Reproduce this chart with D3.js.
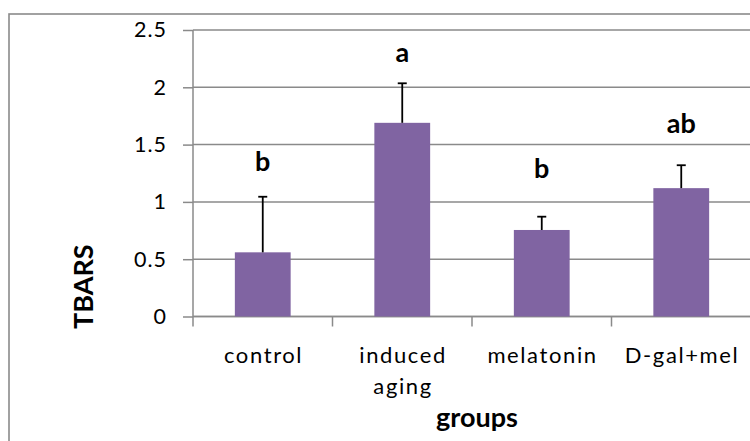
<!DOCTYPE html>
<html>
<head>
<meta charset="utf-8">
<script src="https://cdn.jsdelivr.net/npm/d3@7"></script>
<style>
  body { margin: 0; background: #fff; }
  svg { display: block; }
</style>
</head>
<body>
<svg id="chart" width="750" height="441"></svg>
<script>
// TBARS per group (mean, upper error) with significance letters
const groups = ["control", "induced aging", "melatonin", "D-gal+mel"];
const tbars = [0.56, 1.69, 0.755, 1.12];
const errorUp = [0.485, 0.345, 0.116, 0.20];
const letters = ["b", "a", "b", "ab"];
const letterLevel = [1.27, 2.223, 1.209, 1.60];
const yTicks = [0, 0.5, 1, 1.5, 2, 2.5];

const svg = d3.select("#chart");
const plot = { left: 193, top: 30, right: 751, bottom: 316.5 };
const gridColor = "#8a8a8a";
const barColor = "#8064a2";
const font = "Lato, 'Open Sans', sans-serif";

// chart frame (runs past the right and bottom edges)
svg.append("rect")
  .attr("x", 9).attr("y", 14)
  .attr("width", 800).attr("height", 500)
  .attr("fill", "none")
  .attr("stroke", gridColor)
  .attr("stroke-width", 1.6);

const y = d3.scaleLinear().domain([0, 2.5]).range([plot.bottom, plot.top]);
const x = d3.scaleBand().domain(groups)
  .range([plot.left, plot.right])
  .paddingInner(0.6).paddingOuter(0.3);
const step = x.step();

// horizontal gridlines
svg.append("g")
  .selectAll("line")
  .data(yTicks)
  .join("line")
  .attr("x1", plot.left).attr("x2", plot.right)
  .attr("y1", d => y(d)).attr("y2", d => y(d))
  .attr("stroke", gridColor)
  .attr("stroke-width", 1.5);

// y axis
const yAxis = svg.append("g")
  .attr("transform", `translate(${plot.left},0)`)
  .call(d3.axisLeft(y).tickValues(yTicks).tickSize(10).tickPadding(17)
    .tickFormat(d3.format("")));
yAxis.select(".domain")
  .attr("d", `M0,${plot.top}V${plot.bottom + 10}`)
  .attr("stroke", gridColor).attr("stroke-width", 1.5);
yAxis.selectAll(".tick line").attr("stroke", gridColor).attr("stroke-width", 1.5);
yAxis.selectAll(".tick text")
  .attr("fill", "#000")
  .attr("dx", "1px")
  .style("font-family", font)
  .style("font-size", "21.5px")
  .style("letter-spacing", "1px");

// x axis line with ticks between categories
const xAxis = svg.append("g");
xAxis.append("line")
  .attr("x1", plot.left).attr("x2", plot.right)
  .attr("y1", plot.bottom).attr("y2", plot.bottom)
  .attr("stroke", gridColor).attr("stroke-width", 1.5);
xAxis.selectAll("line.sep")
  .data(d3.range(1, groups.length + 1))
  .join("line")
  .attr("class", "sep")
  .attr("x1", i => plot.left + i * step).attr("x2", i => plot.left + i * step)
  .attr("y1", plot.bottom).attr("y2", plot.bottom + 10)
  .attr("stroke", gridColor).attr("stroke-width", 1.5);

// category labels, wrapped at spaces
const catLabels = xAxis.selectAll("text.cat")
  .data(groups)
  .join("text")
  .attr("class", "cat")
  .attr("y", 363)
  .attr("text-anchor", "middle")
  .attr("fill", "#000")
  .style("font-family", font)
  .style("font-size", "22px")
  .style("letter-spacing", "1.6px");
catLabels.each(function (d) {
  const t = d3.select(this);
  const cx = x(d) + x.bandwidth() / 2 + 0.8;
  d.split(" ").forEach((w, i) => {
    t.append("tspan").attr("x", cx).attr("dy", i === 0 ? 0 : 31).text(w);
  });
});

// bars
const data = groups.map((g, i) => ({ g, v: tbars[i], e: errorUp[i], l: letters[i], ll: letterLevel[i] }));
svg.append("g")
  .selectAll("rect")
  .data(data)
  .join("rect")
  .attr("x", d => x(d.g))
  .attr("y", d => y(d.v))
  .attr("width", x.bandwidth())
  .attr("height", d => y(0) - y(d.v))
  .attr("fill", barColor);

// upper error bars
const err = svg.append("g").attr("stroke", "#000").attr("stroke-width", 1.8);
err.selectAll("line.stem")
  .data(data)
  .join("line")
  .attr("class", "stem")
  .attr("x1", d => x(d.g) + x.bandwidth() / 2)
  .attr("x2", d => x(d.g) + x.bandwidth() / 2)
  .attr("y1", d => y(d.v))
  .attr("y2", d => y(d.v + d.e));
err.selectAll("line.cap")
  .data(data)
  .join("line")
  .attr("class", "cap")
  .attr("x1", d => x(d.g) + x.bandwidth() / 2 - 4.5)
  .attr("x2", d => x(d.g) + x.bandwidth() / 2 + 4.5)
  .attr("y1", d => y(d.v + d.e))
  .attr("y2", d => y(d.v + d.e));

// significance letters
svg.append("g")
  .selectAll("text")
  .data(data)
  .join("text")
  .attr("x", d => x(d.g) + x.bandwidth() / 2)
  .attr("y", d => y(d.ll))
  .attr("text-anchor", "middle")
  .attr("fill", "#000")
  .style("font-family", font)
  .style("font-weight", "bold")
  .style("font-size", "27px")
  .text(d => d.l);

// axis titles
svg.append("text")
  .attr("x", 477).attr("y", 427)
  .attr("text-anchor", "middle")
  .attr("fill", "#000")
  .style("font-family", font)
  .style("font-weight", "bold")
  .style("font-size", "27px")
  .text("groups");

svg.append("text")
  .attr("transform", "translate(93,286.7) rotate(-90)")
  .attr("text-anchor", "middle")
  .attr("fill", "#000")
  .style("font-family", font)
  .style("font-weight", "bold")
  .style("font-size", "27px")
  .text("TBARS");
</script>
</body>
</html>
